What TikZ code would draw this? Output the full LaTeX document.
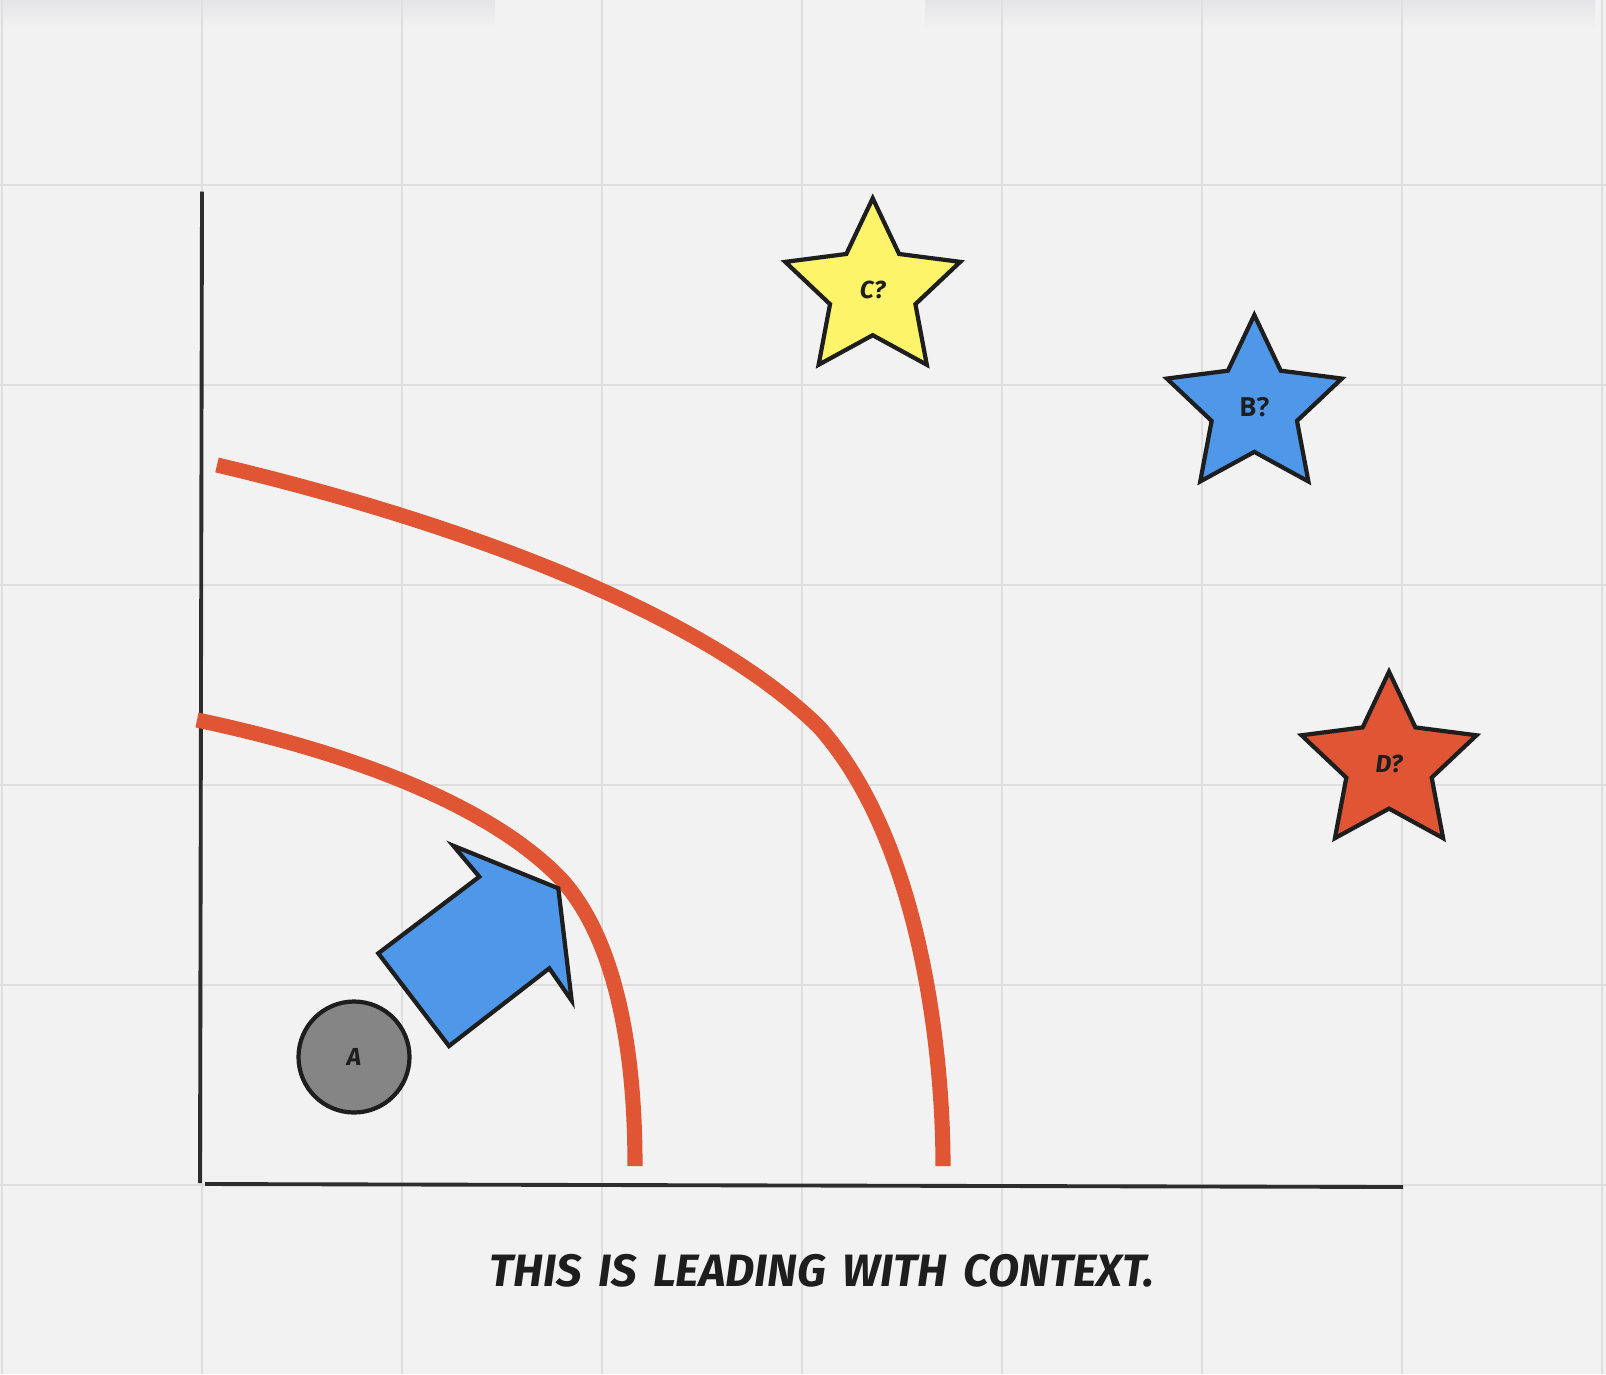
\documentclass[tikz,border=0pt]{standalone}
\usepackage{fontspec}
\newfontfamily\handfont{Fira Sans}
\newfontfamily\plainfont{Open Sans}
\usetikzlibrary{shapes.geometric}
\definecolor{bgclr}{RGB}{242,242,242}
\definecolor{gridclr}{RGB}{222,222,222}
\definecolor{shadeclr}{RGB}{229,229,232}
\definecolor{inkclr}{RGB}{30,30,30}
\definecolor{axisclr}{RGB}{45,45,45}
\definecolor{curveclr}{RGB}{224,86,52}
\definecolor{staryel}{RGB}{254,244,106}
\definecolor{starblu}{RGB}{79,151,232}
\definecolor{starred}{RGB}{224,86,52}
\definecolor{dotgray}{RGB}{133,133,133}
\tikzset{
  gridln/.style={draw=gridclr,line width=0.55pt},
  axisln/.style={draw=axisclr,line width=1.1pt},
  frontier/.style={draw=curveclr,line width=4.3pt},
  starblk/.style={star,star points=5,star point ratio=2.05,minimum size=1.84cm,
    draw=inkclr,line width=1.2pt,fill=#1,inner sep=0pt,text=inkclr},
  dotblk/.style={circle,minimum size=1.11cm,draw=inkclr,line width=1.2pt,
    fill=dotgray,inner sep=0pt,text=inkclr},
  arrblk/.style={draw=inkclr,line width=1.2pt,fill=starblu},
  handlbl/.style={font=\handfont\bfseries\itshape\fontsize{7}{7}\selectfont},
  plainlbl/.style={font=\plainfont\bfseries\fontsize{7.5}{7.5}\selectfont},
  caplbl/.style={font={\handfont\bfseries\itshape\fontsize{12.9}{13}\selectfont\spaceskip=0.36em\relax},
    text=inkclr},
}
\begin{document}
\begin{tikzpicture}
  % canvas
  \fill[bgclr] (0,0) rectangle (16.06,-13.74);
  \useasboundingbox (0,0) rectangle (16.06,-13.74);
  \shade[top color=shadeclr,bottom color=bgclr] (0,0) rectangle (4.95,-0.3);
  \shade[top color=shadeclr,bottom color=bgclr] (9.25,0) rectangle (15.95,-0.3);
  % grid, vertical
  \draw[gridln] (0.02,0) -- (0.02,-13.74);
  \draw[gridln] (2.02,0) -- (2.02,-13.74);
  \draw[gridln] (4.02,0) -- (4.02,-13.74);
  \draw[gridln] (6.02,0) -- (6.02,-13.74);
  \draw[gridln] (8.02,0) -- (8.02,-13.74);
  \draw[gridln] (10.02,0) -- (10.02,-13.74);
  \draw[gridln] (12.02,0) -- (12.02,-13.74);
  \draw[gridln] (14.02,0) -- (14.02,-13.74);
  \draw[gridln] (16.02,0) -- (16.02,-13.74);
  % grid, horizontal
  \draw[gridln] (0,-1.85) -- (16.06,-1.85);
  \draw[gridln] (0,-3.85) -- (16.06,-3.85);
  \draw[gridln] (0,-5.85) -- (16.06,-5.85);
  \draw[gridln] (0,-7.85) -- (16.06,-7.85);
  \draw[gridln] (0,-9.85) -- (16.06,-9.85);
  \draw[gridln] (0,-11.85) -- (16.06,-11.85);
  % axes
  \coordinate (ytop) at (2.02,-1.915);
  \coordinate (orig) at (2.00,-11.83);
  \coordinate (xend) at (14.03,-11.87);
  \draw[axisln] (ytop) -- (orig);
  \draw[axisln] ([xshift=0.05cm,yshift=-0.01cm]orig) -- (xend);
  % frontier curves
  \draw[frontier] (2.17,-4.65) .. controls (4.50,-5.20) and (7.00,-6.10) .. (8.19,-7.27)
    .. controls (9.20,-8.40) and (9.43,-10.50) .. (9.43,-11.66);
  \draw[frontier] (1.97,-7.20) .. controls (3.50,-7.52) and (4.90,-8.05) .. (5.61,-8.79)
    .. controls (6.25,-9.50) and (6.35,-10.80) .. (6.35,-11.66);
  % push arrow
  \draw[arrblk] (4.533,-8.457) -- (4.793,-8.767) -- (3.783,-9.533) -- (4.49,-10.46)
    -- (5.493,-9.683) -- (5.717,-10.007) -- (5.583,-8.883) -- cycle;
  % current point
  \node[dotblk,handlbl] (ptA) at (3.54,-10.57) {A};
  % candidate stars
  \node[starblk=staryel,handlbl] (starC) at (8.727,-2.903) {C?};
  \node[starblk=starblu,plainlbl] (starB) at (12.543,-4.07) {B?};
  \node[starblk=starred,handlbl] (starD) at (13.89,-7.637) {D?};
  % caption
  \node[caplbl] (caption) at (8.22,-12.71) {THIS IS LEADING WITH CONTEXT.};
\end{tikzpicture}
\end{document}
